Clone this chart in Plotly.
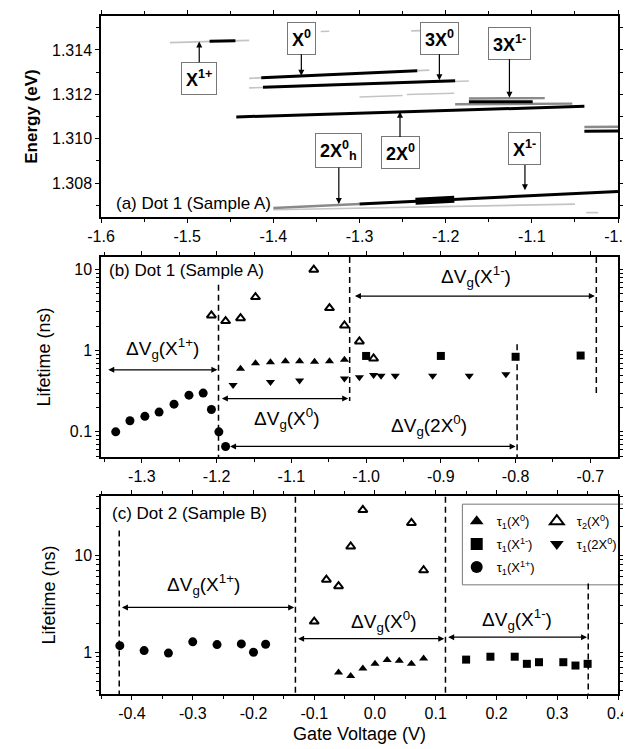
import math
import plotly.graph_objects as go

FONT = "Liberation Sans, Arial, sans-serif"

# ---------------- Panel (a): PL spectral lines (gate voltage, energy) ----------------
faint_x0 = [-1.520, -1.428, -1.428, -1.345, -1.240, -1.300, -1.245, -1.037, -1.400]
faint_x1 = [-1.428, -1.219, -1.173, -1.335, -1.228, -1.250, -1.190, -1.023, -1.050]
faint_y0 = [1.31433, 1.31272, 1.31229, 1.31483, 1.31486, 1.31188, 1.31199, 1.30667, 1.30680]
faint_y1 = [1.31443, 1.31309, 1.31260, 1.31484, 1.31487, 1.31195, 1.31205, 1.30667, 1.30705]

gray_x0 = [-1.173, -1.189, -1.039, -1.400]
gray_x1 = [-1.085, -1.053, -1.000, -1.300]
gray_y0 = [1.31181, 1.31155, 1.31053, 1.30688]
gray_y1 = [1.31183, 1.31158, 1.31054, 1.30706]

dark_x0 = [-1.474, -1.414, -1.412, -1.443, -1.173, -1.039, -1.300]
dark_x1 = [-1.444, -1.233, -1.189, -1.039, -1.099, -1.000, -1.000]
dark_y0 = [1.31439, 1.31275, 1.31232, 1.31098, 1.31166, 1.31034, 1.30706]
dark_y1 = [1.31442, 1.31306, 1.31261, 1.31146, 1.31167, 1.31035, 1.30762]

blob_x0 = [-1.235]
blob_x1 = [-1.190]
blob_y0 = [1.30718]
blob_y1 = [1.30727]

# labels in (a): text, box position, arrow head position
a_labels = ["X<sup>1+</sup>", "X<sup>0</sup>", "3X<sup>0</sup>", "3X<sup>1-</sup>",
            "2X<sup>0</sup><sub>h</sub>", "2X<sup>0</sup>", "X<sup>1-</sup>"]
a_box_x = [-1.486, -1.3675, -1.2073, -1.126, -1.324, -1.253, -1.108]
a_box_y = [1.31272, 1.31453, 1.31453, 1.31430, 1.30947, 1.30936, 1.30954]
a_head_x = [-1.486, -1.3675, -1.2073, -1.126, -1.324, -1.253, -1.108]
a_head_y = [1.31438, 1.31284, 1.31263, 1.31185, 1.30706, 1.31122, 1.30768]

# ---------------- Panel (b): Dot 1 (Sample A) ----------------
b_x1p = [-1.335, -1.316, -1.296, -1.277, -1.257, -1.237, -1.218, -1.207, -1.197, -1.188]
b_t1p = [0.100, 0.137, 0.155, 0.175, 0.219, 0.283, 0.300, 0.188, 0.100, 0.066]

b_x0 = [-1.168, -1.148, -1.128, -1.108, -1.089, -1.069, -1.049, -1.029]
b_t1_x0 = [0.60, 0.70, 0.72, 0.74, 0.74, 0.73, 0.74, 0.77]

b_x0o = [-1.207, -1.188, -1.168, -1.148, -1.070, -1.049, -1.029, -1.009, -0.990]
b_t2_x0 = [2.71, 2.31, 2.51, 4.57, 9.95, 3.34, 2.04, 1.30, 0.80]

b_x2 = [-1.178, -1.128, -1.089, -1.029, -1.009, -0.990, -0.980, -0.961, -0.911, -0.862, -0.813]
b_t1_2x0 = [0.376, 0.41, 0.43, 0.455, 0.47, 0.50, 0.49, 0.49, 0.49, 0.49, 0.51]

b_x1m = [-1.000, -0.900, -0.800, -0.713]
b_t1m = [0.86, 0.86, 0.84, 0.87]

# dashed boundaries (b): x, y_top, y_bottom
b_dash_x = [-1.1975, -1.022, -0.798, -0.692]
b_dash_top = [6.5, 14.2, 1.2, 14.2]
b_dash_bot = [0.049, 0.24, 0.049, 0.30]

# ΔVg ranges (b): label, start, end, arrow level, label x, label y
b_rng_label = ["ΔV<sub>g</sub>(X<sup>1+</sup>)", "ΔV<sub>g</sub>(X<sup>0</sup>)",
               "ΔV<sub>g</sub>(2X<sup>0</sup>)", "ΔV<sub>g</sub>(X<sup>1-</sup>)"]
b_rng_start = [-1.347, -1.195, -1.184, -1.017]
b_rng_end = [-1.199, -1.024, -0.800, -0.694]
b_rng_level = [0.58, 0.257, 0.066, 4.7]
b_lab_x = [-1.273, -1.106, -0.916, -0.853]
b_lab_y = [1.05, 0.145, 0.12, 8.1]

# ---------------- Panel (c): Dot 2 (Sample B) ----------------
c_x1p = [-0.42, -0.38, -0.34, -0.30, -0.26, -0.22, -0.20, -0.18]
c_t1p = [1.17, 1.04, 0.98, 1.28, 1.20, 1.22, 1.00, 1.21]

c_x0o = [-0.10, -0.08, -0.06, -0.04, -0.02, 0.06, 0.08]
c_t2_x0 = [2.07, 5.6, 4.8, 12.3, 29.3, 21.5, 7.0]

c_x0 = [-0.06, -0.04, -0.02, 0.00, 0.02, 0.04, 0.06, 0.08]
c_t1_x0 = [0.62, 0.57, 0.68, 0.76, 0.83, 0.82, 0.76, 0.86]

c_x1m = [0.15, 0.19, 0.23, 0.25, 0.27, 0.31, 0.33, 0.35]
c_t1m = [0.84, 0.90, 0.90, 0.76, 0.79, 0.79, 0.73, 0.76]

c_dash_x = [-0.421, -0.131, 0.116, 0.351]
c_dash_top = [18, 40, 40, 5.1]
c_dash_bot = [0.37, 0.37, 0.37, 0.37]

c_rng_label = ["ΔV<sub>g</sub>(X<sup>1+</sup>)", "ΔV<sub>g</sub>(X<sup>0</sup>)",
               "ΔV<sub>g</sub>(X<sup>1-</sup>)"]
c_rng_start = [-0.419, -0.129, 0.118]
c_rng_end = [-0.133, 0.114, 0.349]
c_rng_level = [2.9, 1.38, 1.43]
c_lab_x = [-0.282, 0.015, 0.233]
c_lab_y = [5.0, 2.1, 2.2]

# ----------------------------------------------------------------------------

def segs(x0, x1, y0, y1):
    xs, ys = [], []
    for a, b, c, d in zip(x0, x1, y0, y1):
        xs += [a, b, None]
        ys += [c, d, None]
    return xs, ys

fig = go.Figure()

for (x0, x1, y0, y1, col, w) in [
    (faint_x0, faint_x1, faint_y0, faint_y1, "#c4c4c4", 1.6),
    (gray_x0, gray_x1, gray_y0, gray_y1, "#8a8a8a", 2.4),
    (dark_x0, dark_x1, dark_y0, dark_y1, "black", 3.0),
    (blob_x0, blob_x1, blob_y0, blob_y1, "black", 7.0),
]:
    xs, ys = segs(x0, x1, y0, y1)
    fig.add_trace(go.Scatter(x=xs, y=ys, mode="lines", line=dict(color=col, width=w),
                             showlegend=False, xaxis="x", yaxis="y", hoverinfo="skip"))

MS = 8
# panel (b) traces (these carry the legend)
fig.add_trace(go.Scatter(x=b_x0, y=b_t1_x0, mode="markers", xaxis="x2", yaxis="y2",
                         marker=dict(symbol="triangle-up", size=MS, color="black"),
                         name="τ<sub>1</sub>(X<sup>0</sup>)", legend="legend", legendgroup="g1"))
fig.add_trace(go.Scatter(x=b_x1m, y=b_t1m, mode="markers", xaxis="x2", yaxis="y2",
                         marker=dict(symbol="square", size=MS, color="black"),
                         name="τ<sub>1</sub>(X<sup>1-</sup>)", legend="legend", legendgroup="g2"))
fig.add_trace(go.Scatter(x=b_x1p, y=b_t1p, mode="markers", xaxis="x2", yaxis="y2",
                         marker=dict(symbol="circle", size=MS + 1, color="black"),
                         name="τ<sub>1</sub>(X<sup>1+</sup>)", legend="legend", legendgroup="g3"))
fig.add_trace(go.Scatter(x=b_x0o, y=b_t2_x0, mode="markers", xaxis="x2", yaxis="y2",
                         marker=dict(symbol="triangle-up-open", size=MS, color="black",
                                     line=dict(width=2, color="black")),
                         name="τ<sub>2</sub>(X<sup>0</sup>)", legend="legend2", legendgroup="g4"))
fig.add_trace(go.Scatter(x=b_x2, y=b_t1_2x0, mode="markers", xaxis="x2", yaxis="y2",
                         marker=dict(symbol="triangle-down", size=MS, color="black"),
                         name="τ<sub>1</sub>(2X<sup>0</sup>)", legend="legend2", legendgroup="g5"))

# panel (c) traces
fig.add_trace(go.Scatter(x=c_x1p, y=c_t1p, mode="markers", xaxis="x3", yaxis="y3",
                         marker=dict(symbol="circle", size=MS + 1, color="black"), showlegend=False))
fig.add_trace(go.Scatter(x=c_x0o, y=c_t2_x0, mode="markers", xaxis="x3", yaxis="y3",
                         marker=dict(symbol="triangle-up-open", size=MS, color="black",
                                     line=dict(width=2, color="black")), showlegend=False))
fig.add_trace(go.Scatter(x=c_x0, y=c_t1_x0, mode="markers", xaxis="x3", yaxis="y3",
                         marker=dict(symbol="triangle-up", size=MS, color="black"), showlegend=False))
fig.add_trace(go.Scatter(x=c_x1m, y=c_t1m, mode="markers", xaxis="x3", yaxis="y3",
                         marker=dict(symbol="square", size=MS, color="black"), showlegend=False))

# dashed boundaries
for xs_, tops, bots, xa, ya in [(b_dash_x, b_dash_top, b_dash_bot, "x2", "y2"),
                                (c_dash_x, c_dash_top, c_dash_bot, "x3", "y3")]:
    X, Y = [], []
    for x, t, b in zip(xs_, tops, bots):
        X += [x, x, None]
        Y += [t, b, None]
    fig.add_trace(go.Scatter(x=X, y=Y, mode="lines", xaxis=xa, yaxis=ya, showlegend=False,
                             line=dict(color="black", width=1.5, dash="6px,4px"), hoverinfo="skip"))

ann = []
for t, bx, by, hx, hy in zip(a_labels, a_box_x, a_box_y, a_head_x, a_head_y):
    ann.append(dict(x=hx, y=hy, ax=bx, ay=by, xref="x", yref="y", axref="x", ayref="y",
                    text="<b>" + t + "</b>", showarrow=True, arrowhead=2, arrowsize=1,
                    arrowwidth=1.2, arrowcolor="black", bgcolor="white", bordercolor="#777",
                    borderwidth=1, borderpad=4, font=dict(size=18, color="black", family=FONT)))

for labs, st, en, lv, lx, ly, xr, yr in [
        (b_rng_label, b_rng_start, b_rng_end, b_rng_level, b_lab_x, b_lab_y, "x2", "y2"),
        (c_rng_label, c_rng_start, c_rng_end, c_rng_level, c_lab_x, c_lab_y, "x3", "y3")]:
    for t, s, e, l, tx, ty in zip(labs, st, en, lv, lx, ly):
        ann.append(dict(x=e, y=math.log10(l), ax=s, ay=math.log10(l), xref=xr, yref=yr,
                        axref=xr, ayref=yr, text="", showarrow=True, arrowhead=2,
                        arrowside="end+start", arrowsize=1, arrowwidth=1.2, arrowcolor="black",
                        standoff=0, startstandoff=0))
        ann.append(dict(x=tx, y=math.log10(ty), xref=xr, yref=yr, text=t, showarrow=False,
                        font=dict(size=19, color="black", family=FONT)))

ann.append(dict(x=-1.585, y=1.30710, xref="x", yref="y", text="(a) Dot 1 (Sample A)",
                showarrow=False, xanchor="left", font=dict(size=17, color="black", family=FONT)))
ann.append(dict(x=-1.347, y=math.log10(9.6), xref="x2", yref="y2", text="(b) Dot 1 (Sample A)",
                showarrow=False, xanchor="left", font=dict(size=17, color="black", family=FONT)))
ann.append(dict(x=-0.437, y=math.log10(27), xref="x3", yref="y3", text="(c) Dot 2 (Sample B)",
                showarrow=False, xanchor="left", font=dict(size=17, color="black", family=FONT)))

axis_common = dict(showline=True, linecolor="black", linewidth=1.5, mirror="ticks",
                   ticks="outside", ticklen=4, tickwidth=1.2, tickcolor="black",
                   showgrid=False, zeroline=False, automargin=False,
                   tickfont=dict(size=16, color="black", family=FONT))

def minor_lin(step):
    return dict(ticks="outside", ticklen=3, tickcolor="black", dtick=step, showgrid=False)

log_minor_b = [v * m for v in (0.01, 0.1, 1) for m in range(2, 10)]
log_minor_c = [v * m for v in (0.1, 1, 10) for m in range(2, 10)]

fig.update_layout(
    width=631, height=749,
    margin=dict(l=93, r=21, t=8, b=63),
    plot_bgcolor="white", paper_bgcolor="white",
    font=dict(family=FONT, color="black"),
    annotations=ann,
    xaxis=dict(axis_common, domain=[0, 1], anchor="y", range=[-1.6, -1.0],
               tickvals=[-1.6, -1.5, -1.4, -1.3, -1.2, -1.1, -1.0],
               ticktext=["-1.6", "-1.5", "-1.4", "-1.3", "-1.2", "-1.1", "-1.0"],
               minor=minor_lin(0.05)),
    yaxis=dict(axis_common, domain=[0.7035, 1], anchor="x", range=[1.30647, 1.31553],
               tickvals=[1.308, 1.310, 1.312, 1.314], tickformat=".3f",
               minor=minor_lin(0.001),
               title=dict(text="<b>Energy (eV)</b>", font=dict(size=17), standoff=10)),
    xaxis2=dict(axis_common, domain=[0, 1], anchor="y2", range=[-1.3547, -0.663],
                tickvals=[-1.3, -1.2, -1.1, -1.0, -0.9, -0.8, -0.7],
                ticktext=["-1.3", "-1.2", "-1.1", "-1.0", "-0.9", "-0.8", "-0.7"],
                minor=minor_lin(0.05)),
    yaxis2=dict(axis_common, domain=[0.3496, 0.6445], anchor="x2", type="log",
                range=[-1.31, 1.153], tickvals=[0.1, 1, 10], ticktext=["0.1", "1", "10"],
                minor=dict(ticks="outside", ticklen=3, tickcolor="black", tickmode="array",
                           tickvals=log_minor_b, showgrid=False),
                title=dict(text="Lifetime (ns)", font=dict(size=18), standoff=14)),
    xaxis3=dict(axis_common, domain=[0, 1], anchor="y3", range=[-0.451, 0.4],
                tickvals=[-0.4, -0.3, -0.2, -0.1, 0.0, 0.1, 0.2, 0.3, 0.4],
                ticktext=["-0.4", "-0.3", "-0.2", "-0.1", "0.0", "0.1", "0.2", "0.3", "0.4"],
                minor=minor_lin(0.05),
                title=dict(text="Gate Voltage (V)", font=dict(size=18), standoff=6)),
    yaxis3=dict(axis_common, domain=[0, 0.292], anchor="x3", type="log",
                range=[-0.43, 1.61], tickvals=[1, 10], ticktext=["1", "10"],
                minor=dict(ticks="outside", ticklen=3, tickcolor="black", tickmode="array",
                           tickvals=log_minor_c, showgrid=False),
                title=dict(text="Lifetime (ns)", font=dict(size=18), standoff=14)),
    legend=dict(x=0.688, y=0.277, xanchor="left", yanchor="top", bgcolor="rgba(0,0,0,0)",
                borderwidth=0, itemsizing="constant", font=dict(size=13, family=FONT),
                tracegroupgap=3),
    legend2=dict(x=0.843, y=0.277, xanchor="left", yanchor="top", bgcolor="rgba(0,0,0,0)",
                 borderwidth=0, itemsizing="constant", font=dict(size=13, family=FONT),
                 tracegroupgap=3),
    shapes=[dict(type="rect", xref="paper", yref="paper", x0=0.699, x1=1.2, y0=0.161, y1=0.280,
                 line=dict(color="#777", width=1), fillcolor="rgba(0,0,0,0)", layer="below")],
)

fig.write_html("out.html")
